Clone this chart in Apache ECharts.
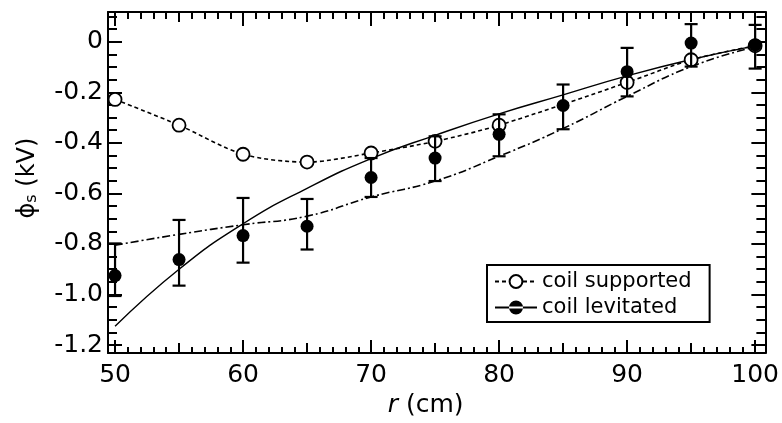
<!DOCTYPE html>
<html><head><meta charset="utf-8">
<script src="https://cdn.jsdelivr.net/npm/echarts@6/dist/echarts.min.js"></script>
<style>html,body{margin:0;padding:0;background:#fff}#c{width:782px;height:423px}</style>
</head><body><div id="c"></div>
<script>
// ---- data ----
const radius = [50, 55, 60, 65, 70, 75, 80, 85, 90, 95, 100];
const supportedR = [50, 55, 60, 65, 70, 75, 80, 90, 95, 100];
const supportedPhi = [-0.228, -0.33, -0.445, -0.476, -0.44, -0.394, -0.33, -0.161, -0.071, -0.016];
const levitatedPhi = [-0.925, -0.862, -0.767, -0.73, -0.537, -0.46, -0.366, -0.252, -0.118, -0.005, -0.012];
const levitatedLow = [-1.006, -0.965, -0.874, -0.822, -0.614, -0.551, -0.453, -0.346, -0.216, -0.098, -0.106];
const levitatedHigh = [-0.798, -0.705, -0.618, -0.622, -0.46, -0.374, -0.287, -0.169, -0.024, 0.07, 0.067];
const solidFitPhi = [-1.126, -0.9, -0.72, -0.58, -0.462, -0.37, -0.285, -0.21, -0.135, -0.07, -0.016];
const dashDotFitPhi = [-0.805, -0.762, -0.724, -0.69, -0.614, -0.551, -0.453, -0.343, -0.216, -0.098, -0.02];
const xTickLabels = [50, 60, 70, 80, 90, 100];
const yTickLabels = [0, -0.2, -0.4, -0.6, -0.8, -1.0, -1.2];

const XMIN = 49.45, XMAX = 100.8, YMIN = -1.232, YMAX = 0.118;

const xMid = [], xMinor = [];
for (let v = 50; v <= 100; v++) { if (v % 10 === 5) xMid.push(v); else if (v % 5 !== 0) xMinor.push(v); }
const yMinor = [];
for (let k = -24; k <= 2; k++) { if (k % 4 !== 0) yMinor.push(k / 20); }

const FONT = 'DejaVu Sans';
function xAx(pos, ticks, len, main) {
  return {
    type: 'value', position: pos, min: XMIN, max: XMAX,
    axisLine: { show: main, onZero: false, lineStyle: { color: '#000', width: 2 } },
    axisTick: { show: true, inside: true, length: len, customValues: ticks, lineStyle: { color: '#000', width: 2 } },
    axisLabel: main && pos === 'bottom' ? { show: true, customValues: xTickLabels, color: '#000', fontSize: 25, fontFamily: FONT, margin: 10 } : { show: false },
    splitLine: { show: false }
  };
}
function yAx(pos, ticks, len, main) {
  return {
    type: 'value', position: pos, min: YMIN, max: YMAX,
    axisLine: { show: main, onZero: false, lineStyle: { color: '#000', width: 2 } },
    axisTick: { show: true, inside: true, length: len, customValues: ticks, lineStyle: { color: '#000', width: 2 } },
    axisLabel: main && pos === 'left' ? { show: true, customValues: yTickLabels, color: '#000', fontSize: 25, fontFamily: FONT, margin: 5,
      formatter: v => (Math.abs(v) < 1e-9 ? '0' : v.toFixed(1)) } : { show: false },
    splitLine: { show: false }
  };
}

const xAxes = [xAx('bottom', xTickLabels, 13, true), xAx('bottom', xMid, 10, false), xAx('bottom', xMinor, 6, false),
               xAx('top', xTickLabels, 14, true), xAx('top', xMid, 10, false), xAx('top', xMinor, 7, false)];
xAxes[0].name = '{i|r}{n| (cm)}';
xAxes[0].nameLocation = 'middle';
xAxes[0].nameGap = 38;
xAxes[0].nameTextStyle = { padding: [0, 22, 0, 0], rich: { i: { fontStyle: 'italic', fontSize: 25, fontFamily: FONT, color: '#000' }, n: { fontSize: 25, fontFamily: FONT, color: '#000' } } };

const yAxes = [yAx('left', yTickLabels, 14, true), yAx('left', yMinor, 9, false),
               yAx('right', yTickLabels, 14, true), yAx('right', yMinor, 9, false)];
yAxes[0].name = '{a|ϕ}{s|s}{a| (kV)}';
yAxes[0].nameLocation = 'middle';
yAxes[0].nameRotate = 90;
yAxes[0].nameGap = 68;
yAxes[0].nameTextStyle = { padding: [0, 0, 0, 9], rich: { a: { fontSize: 24, fontFamily: FONT, color: '#000' }, s: { fontSize: 16, fontFamily: FONT, color: '#000', padding: [9, 0, 0, 0] } } };

const levIcon = 'path://M0,7.1 L42,7.1 L42,8.9 L0,8.9 Z M14,8 A7,7 0 1,0 28,8 A7,7 0 1,0 14,8 Z';

const option = {
  animation: false,
  backgroundColor: '#fff',
  grid: { left: 108, right: 15, top: 12, bottom: 68, containLabel: false },
  xAxis: xAxes,
  yAxis: yAxes,
  legend: {
    left: 487, top: 265, orient: 'vertical',
    borderColor: '#000', borderWidth: 2, borderRadius: 0,
    padding: [6, 18, 4, 7], itemGap: 5, itemWidth: 42, itemHeight: 16,
    textStyle: { fontSize: 21, fontFamily: FONT, color: '#000' },
    data: [{ name: 'coil supported' }, { name: 'coil levitated', icon: levIcon }]
  },
  series: [
    { name: 'solid fit', type: 'line', smooth: true, symbol: 'none', z: 1,
      data: radius.map((r, i) => [r, solidFitPhi[i]]),
      lineStyle: { color: '#000', width: 1.4 } },
    { name: 'dash-dot fit', type: 'line', smooth: true, symbol: 'none', z: 1,
      data: radius.map((r, i) => [r, dashDotFitPhi[i]]),
      lineStyle: { color: '#000', width: 1.6, type: [8, 3, 2, 3] } },
    { name: 'coil supported', type: 'line', smooth: 0.3, z: 2,
      symbol: 'circle', symbolSize: 13,
      itemStyle: { color: '#fff', borderColor: '#000', borderWidth: 1.8, opacity: 1 },
      lineStyle: { color: '#000', width: 1.6, type: [4, 3] },
      data: supportedR.map((r, i) => [r, supportedPhi[i]]) },
    { name: 'error bars', type: 'custom', z: 3,
      data: radius.map((r, i) => [r, levitatedLow[i], levitatedHigh[i]]),
      encode: { x: 0, y: [1, 2] },
      renderItem: function (params, api) {
        const x = api.value(0);
        const a = api.coord([x, api.value(1)]);
        const b = api.coord([x, api.value(2)]);
        const w = 6.5;
        const st = { stroke: '#000', lineWidth: 2.2 };
        return { type: 'group', children: [
          { type: 'line', shape: { x1: a[0], y1: a[1], x2: b[0], y2: b[1] }, style: st },
          { type: 'line', shape: { x1: a[0] - w, y1: a[1], x2: a[0] + w, y2: a[1] }, style: st },
          { type: 'line', shape: { x1: b[0] - w, y1: b[1], x2: b[0] + w, y2: b[1] }, style: st }
        ] };
      } },
    { name: 'coil levitated', type: 'scatter', z: 4, symbol: 'circle', symbolSize: 13,
      itemStyle: { color: '#000', opacity: 1 },
      data: radius.map((r, i) => [r, levitatedPhi[i]]) }
  ]
};
echarts.init(document.getElementById('c'), null, { renderer: 'canvas' }).setOption(option);
</script></body></html>
